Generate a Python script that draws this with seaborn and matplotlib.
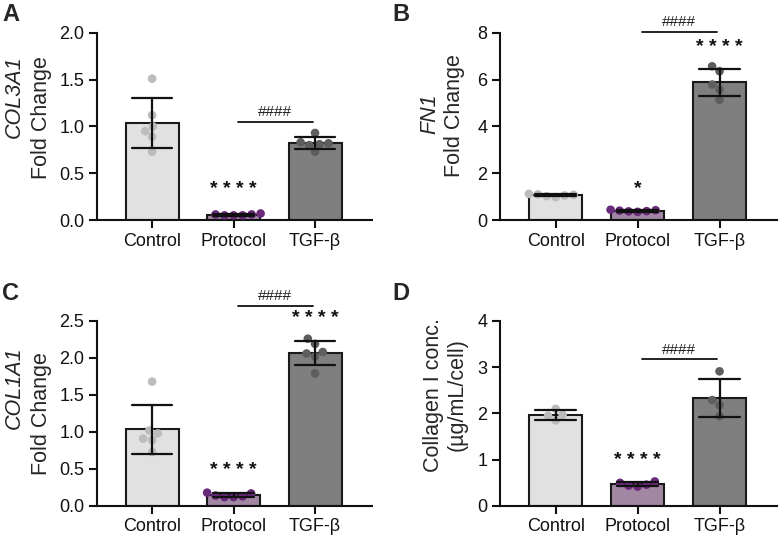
import numpy as np
import pandas as pd
import matplotlib
matplotlib.use("Agg")
import matplotlib.pyplot as plt
import seaborn as sns

# ---------------- data ----------------
groups = ["Control", "Protocol", "TGF-β"]

A_control = [1.51, 1.12, 1.00, 0.95, 0.89, 0.73]
A_protocol = [0.05, 0.07, 0.06, 0.06, 0.05, 0.05]
A_tgf = [0.93, 0.82, 0.80, 0.73, 0.81, 0.83]

B_control = [1.05, 1.12, 1.08, 1.10, 1.02, 0.98]
B_protocol = [0.35, 0.42, 0.40, 0.38, 0.44, 0.37]
B_tgf = [6.57, 6.36, 5.79, 5.57, 5.14]

C_control = [1.68, 0.98, 1.02, 0.91, 0.89, 0.73]
C_protocol = [0.12, 0.18, 0.13, 0.17, 0.12, 0.14]
C_tgf = [2.26, 2.19, 2.08, 2.06, 2.02, 1.79]

D_control = [2.10, 1.85, 1.97, 1.95]
D_protocol = [0.42, 0.53, 0.44, 0.46, 0.50]
D_tgf = [2.91, 2.29, 2.18, 1.94]

A_yticks = [0.0, 0.5, 1.0, 1.5, 2.0]
B_yticks = [0, 2, 4, 6, 8]
C_yticks = [0.0, 0.5, 1.0, 1.5, 2.0, 2.5]
D_yticks = [0, 1, 2, 3, 4]

A_ticklabels = ["0.0", "0.5", "1.0", "1.5", "2.0"]
B_ticklabels = ["0", "2", "4", "6", "8"]
C_ticklabels = ["0.0", "0.5", "1.0", "1.5", "2.0", "2.5"]
D_ticklabels = ["0", "1", "2", "3", "4"]

# ---------------- style ----------------
sns.set_theme(style="ticks")
plt.rcParams["font.family"] = ["Liberation Sans", "DejaVu Sans"]
plt.rcParams["axes.linewidth"] = 1.5
plt.rcParams["xtick.major.width"] = 1.5
plt.rcParams["ytick.major.width"] = 1.5
plt.rcParams["xtick.major.size"] = 6
plt.rcParams["ytick.major.size"] = 6
plt.rcParams["xtick.color"] = "#111111"
plt.rcParams["ytick.color"] = "#111111"
plt.rcParams["axes.edgecolor"] = "#111111"

bar_colors = {"Control": "#e1e1e1", "Protocol": "#a682a8", "TGF-β": "#7f7f7f"}
dot_colors = {"Control": "#bcbcbc", "Protocol": "#6a2a7c", "TGF-β": "#5e5e5e"}

fig = plt.figure(figsize=(7.8, 5.38), dpi=100)

LBL = 15.5

panels = [
    dict(letter="A", rect=[0.124, 0.591, 0.353, 0.348], data=[A_control, A_protocol, A_tgf],
         yticks=A_yticks, yticklabels=A_ticklabels, gene="COL3A1", gene_y=0.66, fc_y=0.55,
         gene_x=-0.30, fc_x=-0.20, label2="Fold Change",
         prot_star=("* * * *", 0.24), tgf_star=None, line_y=1.05, hash_y=1.08,
         letter_pos=(0.003, 0.995)),
    dict(letter="B", rect=[0.641, 0.591, 0.355, 0.348], data=[B_control, B_protocol, B_tgf],
         yticks=B_yticks, yticklabels=B_ticklabels, gene="FN1", gene_y=0.57, fc_y=0.56,
         gene_x=-0.255, fc_x=-0.165, label2="Fold Change",
         prot_star=("*", 1.0), tgf_star=("* * * *", 7.0), line_y=8.05, hash_y=8.15,
         letter_pos=(0.503, 0.995)),
    dict(letter="C", rect=[0.124, 0.0595, 0.353, 0.344], data=[C_control, C_protocol, C_tgf],
         yticks=C_yticks, yticklabels=C_ticklabels, gene="COL1A1", gene_y=0.64, fc_y=0.50,
         gene_x=-0.30, fc_x=-0.20, label2="Fold Change",
         prot_star=("* * * *", 0.37), tgf_star=("* * * *", 2.42), line_y=2.70, hash_y=2.74,
         letter_pos=(0.003, 0.475)),
    dict(letter="D", rect=[0.641, 0.0595, 0.355, 0.344], data=[D_control, D_protocol, D_tgf],
         yticks=D_yticks, yticklabels=D_ticklabels, gene=None, gene_y=0.60, fc_y=0.60,
         gene_x=-0.24, fc_x=-0.155, label2="(µg/mL/cell)", label1="Collagen I conc.",
         prot_star=("* * * *", 0.80), tgf_star=None, line_y=3.17, hash_y=3.22,
         letter_pos=(0.503, 0.475)),
]

for p in panels:
    ax = fig.add_axes(p["rect"])
    df = pd.DataFrame({
        "group": np.concatenate([[g] * len(v) for g, v in zip(groups, p["data"])]),
        "value": np.concatenate(p["data"]),
    })
    sns.barplot(data=df, x="group", y="value", hue="group", order=groups, hue_order=groups,
                palette=bar_colors, errorbar="sd", capsize=0.5, width=0.65,
                edgecolor="#1a1a1a", linewidth=1.5, legend=False, ax=ax,
                err_kws={"color": "#111111", "linewidth": 1.6, "zorder": 6})
    sns.swarmplot(data=df, x="group", y="value", hue="group", order=groups, hue_order=groups,
                  palette=dot_colors, size=6.2, legend=False, ax=ax, zorder=4,
                  warn_thresh=1)
    ax.set_xlim(-0.68, 2.7)
    ax.set_ylim(p["yticks"][0], p["yticks"][-1])
    ax.set_yticks(p["yticks"])
    ax.set_yticklabels(p["yticklabels"], fontsize=13)
    ax.set_xticks(range(3))
    ax.set_xticklabels(groups, fontsize=13)
    ax.set_xlabel("")
    ax.set_ylabel("")
    ax.tick_params(axis="both", pad=3)
    sns.despine(ax=ax)

    # axis titles
    if p["gene"] is not None:
        ax.text(p["gene_x"], p["gene_y"], p["gene"], rotation=90, fontsize=LBL, fontstyle="italic",
                ha="center", va="center", transform=ax.transAxes)
    else:
        ax.text(p["gene_x"], p["gene_y"], p["label1"], rotation=90, fontsize=LBL,
                ha="center", va="center", transform=ax.transAxes)
    ax.text(p["fc_x"], p["fc_y"], p["label2"], rotation=90, fontsize=LBL,
            ha="center", va="center", transform=ax.transAxes)

    # significance marks
    txt, yv = p["prot_star"]
    ax.text(1, yv, txt, ha="center", va="bottom", fontsize=14, fontweight="bold", color="#111111")
    if p["tgf_star"] is not None:
        txt, yv = p["tgf_star"]
        ax.text(2, yv, txt, ha="center", va="bottom", fontsize=14, fontweight="bold", color="#111111")
    ax.plot([1.05, 1.97], [p["line_y"], p["line_y"]], color="#111111", lw=1.3, clip_on=False)
    ax.text(1.51, p["hash_y"], "####", ha="center", va="bottom", fontsize=11, color="#222222",
            clip_on=False)

    fig.text(p["letter_pos"][0], p["letter_pos"][1], p["letter"], fontsize=17, fontweight="bold",
             ha="left", va="top")

fig.savefig("out.png", dpi=100)
